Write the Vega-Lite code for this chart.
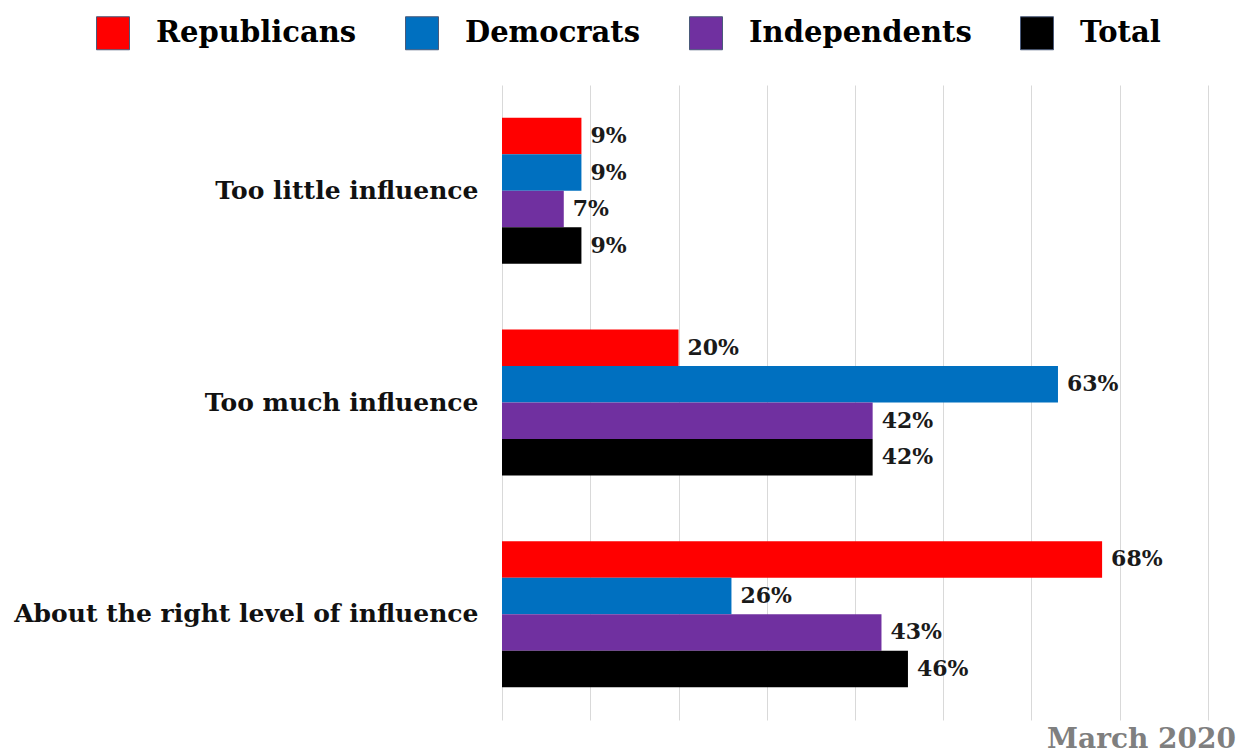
{
  "$schema": "https://vega.github.io/schema/vega-lite/v6.json",
  "autosize": "none",
  "width": 706,
  "height": 635,
  "padding": {"left": 502, "top": 85, "right": 39, "bottom": 35},
  "background": "white",
  "config": {
    "view": {"stroke": null},
    "font": "DejaVu Serif"
  },
  "title": {
    "text": "March 2020",
    "orient": "bottom",
    "anchor": "end",
    "fontSize": 28,
    "fontWeight": "bold",
    "font": "DejaVu Serif",
    "color": "#7f7f7f",
    "offset": 6,
    "dx": 28
  },
  "data": {
    "values": [
      {"category": "Too little influence", "group": "Republicans", "value": 0.09},
      {"category": "Too little influence", "group": "Democrats", "value": 0.09},
      {"category": "Too little influence", "group": "Independents", "value": 0.07},
      {"category": "Too little influence", "group": "Total", "value": 0.09},
      {"category": "Too much influence", "group": "Republicans", "value": 0.20},
      {"category": "Too much influence", "group": "Democrats", "value": 0.63},
      {"category": "Too much influence", "group": "Independents", "value": 0.42},
      {"category": "Too much influence", "group": "Total", "value": 0.42},
      {"category": "About the right level of influence", "group": "Republicans", "value": 0.68},
      {"category": "About the right level of influence", "group": "Democrats", "value": 0.26},
      {"category": "About the right level of influence", "group": "Independents", "value": 0.43},
      {"category": "About the right level of influence", "group": "Total", "value": 0.46}
    ]
  },
  "encoding": {
    "y": {
      "field": "category",
      "type": "nominal",
      "sort": ["Too little influence", "Too much influence", "About the right level of influence"],
      "scale": {"paddingInner": 0.31, "paddingOuter": 0.155},
      "axis": {
        "title": null,
        "domain": false,
        "ticks": false,
        "labelPadding": 24,
        "labelLimit": 600,
        "labelFontSize": 25,
        "labelFontWeight": "bold",
        "labelFont": "DejaVu Serif",
        "labelColor": "#111111"
      }
    },
    "yOffset": {
      "field": "group",
      "type": "nominal",
      "scale": {"domain": ["Republicans", "Democrats", "Independents", "Total"], "paddingInner": 0, "paddingOuter": 0}
    },
    "x": {
      "field": "value",
      "type": "quantitative",
      "scale": {"domain": [0, 0.8], "nice": false},
      "axis": {
        "title": null,
        "labels": false,
        "ticks": false,
        "domain": false,
        "values": [0, 0.1, 0.2, 0.3, 0.4, 0.5, 0.6, 0.7, 0.8],
        "gridColor": "#d9d9d9",
        "gridWidth": 1
      }
    }
  },
  "layer": [
    {
      "mark": {"type": "bar"},
      "encoding": {
        "color": {
          "field": "group",
          "type": "nominal",
          "scale": {
            "domain": ["Republicans", "Democrats", "Independents", "Total"],
            "range": ["#ff0000", "#0070c0", "#7030a0", "#000000"]
          },
          "legend": {
            "title": null,
            "orient": "none",
            "direction": "horizontal",
            "legendX": -406,
            "legendY": -69,
            "symbolType": "square",
            "symbolSize": 1089,
            "symbolStrokeWidth": 1,
            "symbolStrokeColor": "#4a5a7a",
            "labelFontSize": 29,
            "labelFontWeight": "bold",
            "labelFont": "DejaVu Serif",
            "labelColor": "#000000",
            "labelOffset": 26,
            "columnPadding": 46,
            "labelLimit": 400
          }
        }
      }
    },
    {
      "mark": {
        "type": "text",
        "align": "left",
        "baseline": "middle",
        "dx": 9,
        "fontSize": 22,
        "fontWeight": "bold",
        "font": "DejaVu Serif",
        "color": "#1a1a1a"
      },
      "encoding": {
        "text": {"field": "value", "type": "quantitative", "format": ".0%"}
      }
    }
  ]
}
